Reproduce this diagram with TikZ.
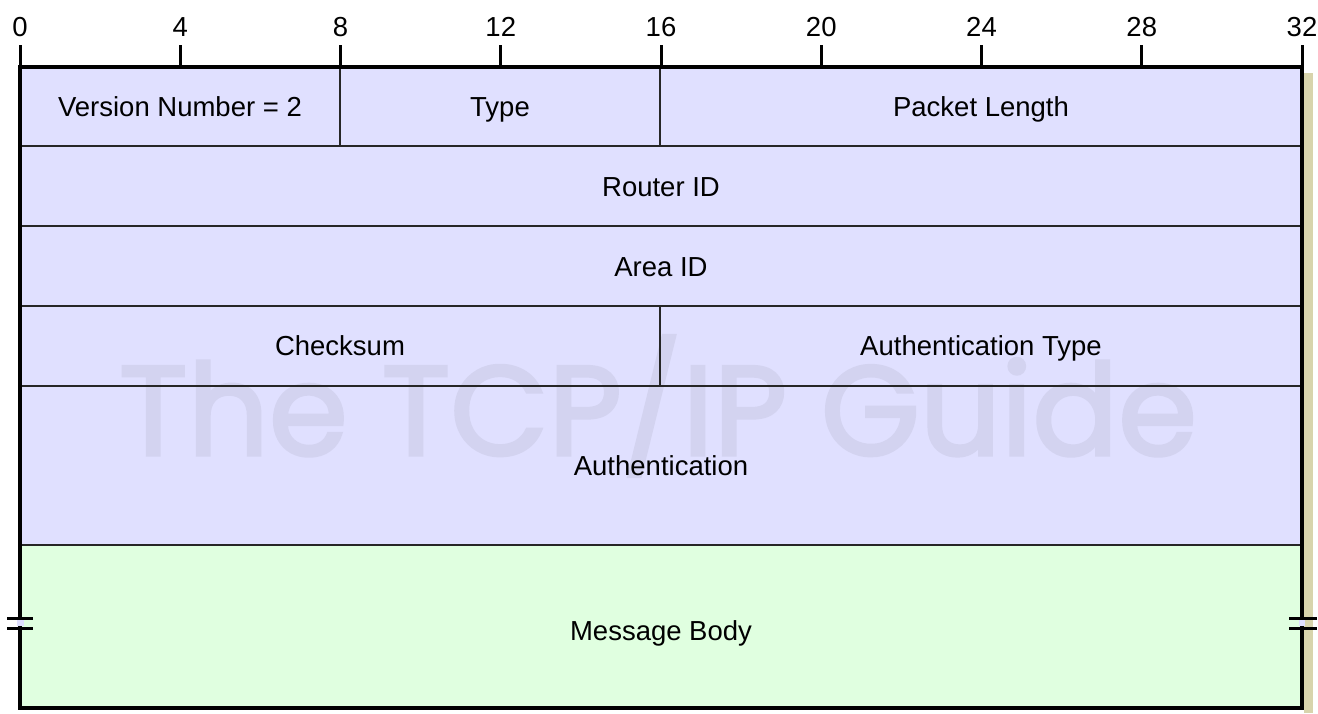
\documentclass[tikz,border=0pt]{standalone}
\usepackage{fontspec}
\setmainfont{Liberation Sans}
\newfontfamily\wmfont[FakeBold=2.5]{Poppins}
\definecolor{lav}{HTML}{E0E0FF}
\definecolor{grn}{HTML}{E0FFE0}
\definecolor{shad}{HTML}{D8D4AC}
\definecolor{wm}{HTML}{D3D3F0}
\begin{document}
\begin{tikzpicture}[x=1pt,y=-1pt,
  lbl/.style={font=\fontsize{27.5}{30}\selectfont, inner sep=0pt, anchor=base},
  inner line/.style={line width=1.6pt, draw=black!85},
  frame line/.style={line width=3.2pt, draw=black},
  tick/.style={line width=3pt, draw=black},
  breakmark/.style={line width=3pt, draw=black}]
\useasboundingbox (0,0) rectangle (1318,713);
% shadow
\fill[shad] (1304,73) rectangle (1313,713);
% fills
\fill[lav] (20,67) rectangle (1302,545);
\fill[grn] (20,545) rectangle (1302,708);
% watermark
\node[inner sep=0pt, anchor=base, text=wm, font=\wmfont\fontsize{127}{130}\selectfont] (wmark) at (658,455) {The TCP/IP Guide};
% inner lines
\draw[inner line] (20,146) -- (1302,146);
\draw[inner line] (20,226) -- (1302,226);
\draw[inner line] (20,306) -- (1302,306);
\draw[inner line] (20,386) -- (1302,386);
\draw[inner line] (20,545) -- (1302,545);
\draw[inner line] (340,67) -- (340,146);
\draw[inner line] (660,67) -- (660,146);
\draw[inner line] (660,306) -- (660,386);
% frame
\draw[frame line] (20,67) rectangle (1302,708);
% ticks and labels
\foreach \k/\v in {0/0,1/4,2/8,3/12,4/16,5/20,6/24,7/28,8/32}{
  \coordinate (tk\k) at ({20+160.25*\k},67);
  \coordinate (tt\k) at ({20+160.25*\k},45);
  \draw[tick] (tk\k) -- (tt\k);
  \node[lbl] (lab\k) at ({20+160.25*\k},36) {\v};
}
% break marks
\fill[lav] (17,620) rectangle (24,626);
\fill[lav] (1299,620) rectangle (1305,626);
\coordinate (bl1a) at (7,618); \coordinate (bl1b) at (33,618);
\coordinate (bl2a) at (7,628); \coordinate (bl2b) at (33,628);
\coordinate (br1a) at (1289,618); \coordinate (br1b) at (1317,618);
\coordinate (br2a) at (1289,628); \coordinate (br2b) at (1317,628);
\draw[breakmark] (bl1a) -- (bl1b);
\draw[breakmark] (bl2a) -- (bl2b);
\draw[breakmark] (br1a) -- (br1b);
\draw[breakmark] (br2a) -- (br2b);
% field texts
\node[lbl] (ver) at (180,116.5) {Version Number = 2};
\node[lbl] (type) at (500,116.5) {Type};
\node[lbl] (plen) at (981,116.5) {Packet Length};
\node[lbl] (rid) at (661,196) {Router ID};
\node[lbl] (aid) at (661,276) {Area ID};
\node[lbl] (cks) at (340,355.5) {Checksum};
\node[lbl] (atype) at (981,355.5) {Authentication Type};
\node[lbl] (auth) at (661,475) {Authentication};
\node[lbl] (body) at (661,640) {Message Body};
\end{tikzpicture}
\end{document}
